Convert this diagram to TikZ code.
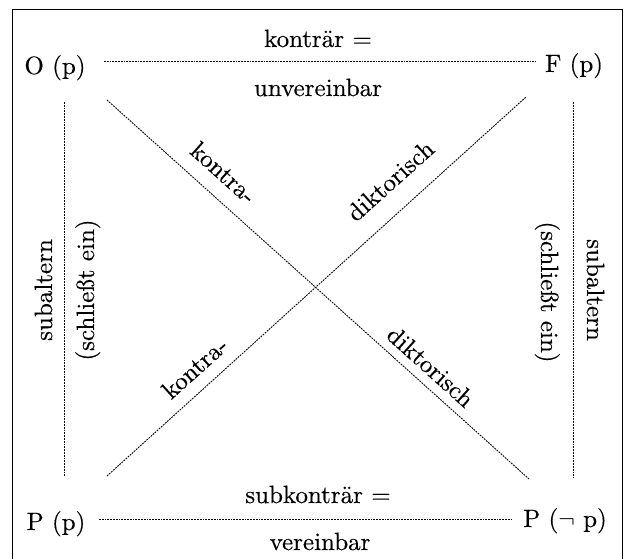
\documentclass[tikz,border=0pt]{standalone}
\usepackage{fontspec}
\setmainfont{lmroman10-regular.otf}[FakeBold=0.35]
\begin{document}
\begin{tikzpicture}[x=1pt,y=-1pt,
  lbl/.style={inner sep=0pt, anchor=base, font=\fontsize{25}{30}\selectfont},
  rel/.style={line width=0.9pt, dash pattern=on 1.8pt off 1pt},
  frameline/.style={line width=1pt}]
\useasboundingbox (0,0) rectangle (626,559);
\draw[frameline] (12,562) -- (12,10) -- (622,10) -- (622,562);
% corner nodes
\node[lbl] (O) at (55,74) {O (p)};
\node[lbl] (F) at (574,72) {F (p)};
\node[lbl] (Pp) at (56,530) {P (p)};
\node[lbl] (Pn) at (565,527) {P (\(\neg\) p)};
% line end points
\coordinate (t1) at (104,61); \coordinate (t2) at (536,61);
\coordinate (b1) at (99,519); \coordinate (b2) at (513,519);
\coordinate (l1) at (64,102); \coordinate (l2) at (64,477);
\coordinate (r1) at (573,102); \coordinate (r2) at (573,478);
\coordinate (d1a) at (107,100); \coordinate (d1b) at (529,479);
\coordinate (d2a) at (107,476); \coordinate (d2b) at (526,97);
\draw[rel] (t1) -- (t2);
\draw[rel] (b1) -- (b2);
\draw[rel] (l1) -- (l2);
\draw[rel] (r1) -- (r2);
\draw[rel] (d1a) -- (d1b);
\draw[rel] (d2a) -- (d2b);
% labels
\node[lbl] (kon) at (318,47) {konträr =};
\node[lbl] (unv) at (318,96) {unvereinbar};
\node[lbl] (sub) at (318,503) {subkonträr =};
\node[lbl] (ver) at (320,550) {vereinbar};
\node[lbl, rotate=90] (sa1) at (52,290) {subaltern};
\node[lbl, rotate=90] (se1) at (94,290) {(schließt ein)};
\node[lbl, rotate=-90] (se2) at (541,292) {(schließt ein)};
\node[lbl, rotate=-90] (sa2) at (587,290) {subaltern};
\node[lbl, rotate=-41.9] (dk1) at (218,179) {kontra-};
\node[lbl, rotate=41.9] (dd1) at (396,187) {diktorisch};
\node[lbl, rotate=41.9] (dk2) at (200.4,374) {kontra-};
\node[lbl, rotate=-41.9] (dd2) at (425,373) {diktorisch};
\end{tikzpicture}
\end{document}
